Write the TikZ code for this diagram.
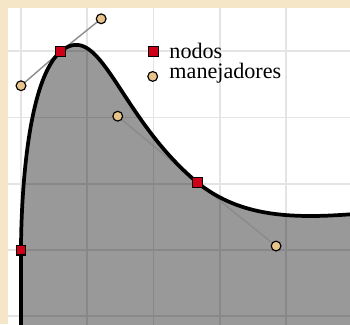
\documentclass[tikz,border=0pt]{standalone}
\usepackage{fontspec}
\setmainfont{Liberation Serif}
\definecolor{parch}{RGB}{245,230,200}
\definecolor{gridc}{RGB}{228,228,228}
\definecolor{nodered}{RGB}{206,0,24}
\definecolor{handletan}{RGB}{232,196,138}
\definecolor{handleline}{RGB}{138,138,138}
\tikzset{
  nodemark/.style={draw=black, line width=0.5pt, fill=nodered, minimum size=4.2pt, inner sep=0pt, rectangle},
  handlemark/.style={draw=black, line width=0.5pt, fill=handletan, minimum size=4.2pt, inner sep=0pt, circle},
  handleseg/.style={draw=handleline, line width=0.6pt},
  curvestyle/.style={line width=1.6pt, draw=black},
  legendtext/.style={font=\fontsize{9.5}{10}\selectfont, anchor=base west, inner sep=0pt}
}
\begin{document}
\begin{tikzpicture}
\useasboundingbox (-0.317,-1.117) rectangle (4.966,3.774);
\fill[parch] (-0.317,-1.117) rectangle (4.966,3.774);
\fill[white] (-0.196,-1.2) rectangle (5.1,3.653);
\begin{scope}
\clip (-0.196,-1.2) rectangle (5.1,3.653);
\foreach \x in {0,1,2,3,4} \draw[gridc, line width=0.8pt] (\x,-1.2) -- (\x,3.653);
\foreach \y in {-1,0,1,2,3} \draw[gridc, line width=0.8pt] (-0.196,\y) -- (5.1,\y);
% coordinates
\coordinate (A) at (0,0);
\coordinate (B) at (0.6,3.0);
\coordinate (C) at (2.66,1.02);
\coordinate (hB1) at (0,2.48);
\coordinate (hB2) at (1.21,3.49);
\coordinate (hC1) at (1.46,2.02);
\coordinate (hC2) at (3.85,0.06);
\coordinate (D) at (8,0.76);
\coordinate (hD) at (5.5,0.76);
\coordinate (A0) at (0,-2);
% fill
\fill[black, fill opacity=0.4] (A0) -- (A) .. controls (0,0.15) and (hB1) .. (B)
  .. controls (hB2) and (hC1) .. (C) .. controls (hC2) and (hD) .. (D) -- (8,-2) -- cycle;
% handle lines
\draw[handleseg] (hB1) -- (B) -- (hB2);
\draw[handleseg] (hC1) -- (C) -- (hC2);
% curve
\draw[curvestyle] (A0) -- (A) .. controls (0,0.15) and (hB1) .. (B)
  .. controls (hB2) and (hC1) .. (C) .. controls (hC2) and (hD) .. (D);
\end{scope}
% markers
\node[nodemark] (nA) at (A) {};
\node[nodemark] (nB) at (B) {};
\node[nodemark] (nC) at (C) {};
\node[handlemark] (mB1) at (hB1) {};
\node[handlemark] (mB2) at (hB2) {};
\node[handlemark] (mC1) at (hC1) {};
\node[handlemark] (mC2) at (hC2) {};
% legend
\node[nodemark] (lgn) at (1.997,2.996) {};
\node[handlemark] (lgh) at (1.988,2.62) {};
\node[legendtext] (tn) at (2.234,2.898) {nodos};
\node[legendtext] (th) at (2.234,2.596) {manejadores};
\end{tikzpicture}
\end{document}
